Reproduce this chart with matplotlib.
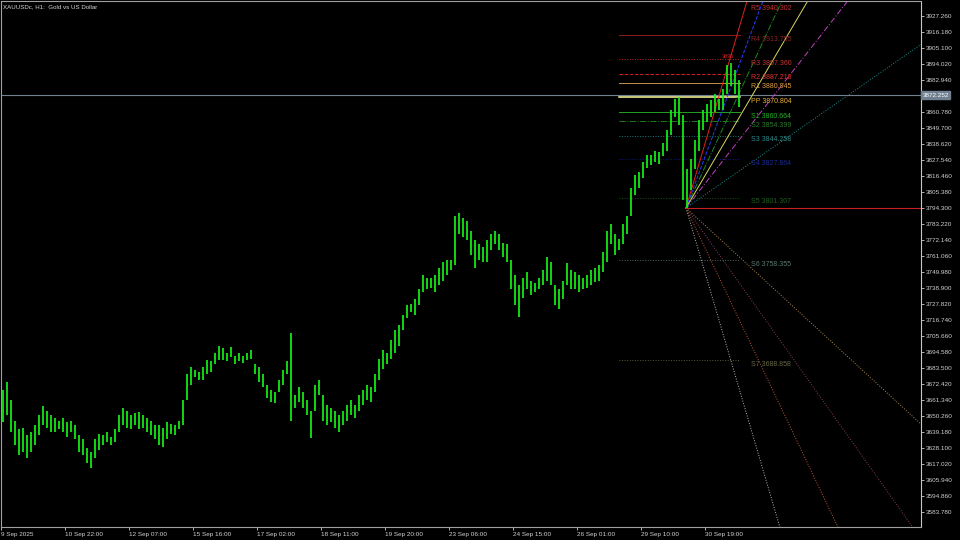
import numpy as np
import matplotlib
matplotlib.use('Agg')
import matplotlib.pyplot as plt

plt.rcParams['font.family'] = ['Liberation Sans', 'DejaVu Sans']

# XAUUSDc H1, one entry per two hourly bars (high / low)
highs = [3668, 3674, 3661, 3647, 3641, 3642, 3637, 3639, 3644, 3651,
         3657, 3654, 3651, 3649, 3647, 3649, 3646, 3647, 3644, 3637,
         3634, 3628, 3625, 3634, 3638, 3637, 3639, 3636, 3641, 3651,
         3656, 3654, 3651, 3652, 3653, 3651, 3649, 3647, 3644, 3644,
         3642, 3646, 3645, 3644, 3647, 3661, 3679, 3684, 3682, 3681,
         3684, 3689, 3688, 3694, 3699, 3697, 3694, 3698, 3692, 3694,
         3692, 3694, 3696, 3686, 3684, 3679, 3672, 3668, 3667, 3675,
         3682, 3688, 3708, 3665, 3670, 3667, 3661, 3654, 3672, 3675,
         3665, 3658, 3656, 3654, 3651, 3654, 3658, 3661, 3658, 3665,
         3668, 3672, 3670, 3679, 3690, 3696, 3694, 3703, 3710, 3713,
         3720, 3727, 3728, 3731, 3738, 3748, 3746, 3746, 3748, 3753,
         3757, 3758, 3758, 3789, 3791, 3787, 3785, 3778, 3772, 3769,
         3767, 3772, 3776, 3778, 3776, 3770, 3769, 3758, 3748, 3741,
         3746, 3750, 3744, 3742, 3746, 3751, 3760, 3757, 3741, 3738,
         3744, 3756, 3751, 3750, 3748, 3746, 3748, 3751, 3753, 3755,
         3764, 3778, 3783, 3776, 3773, 3783, 3789, 3808, 3817, 3819,
         3826, 3831, 3831, 3834, 3833, 3839, 3848, 3862, 3870, 3871,
         3859, 3821, 3828, 3841, 3855, 3862, 3866, 3869, 3873, 3870,
         3877, 3893, 3895, 3890, 3883]
lows = [3646, 3651, 3639, 3630, 3623, 3625, 3621, 3625, 3630, 3637,
        3644, 3642, 3639, 3639, 3641, 3639, 3636, 3639, 3634, 3625,
        3623, 3618, 3614, 3621, 3627, 3630, 3632, 3630, 3632, 3639,
        3644, 3642, 3641, 3644, 3641, 3642, 3639, 3637, 3634, 3630,
        3629, 3634, 3638, 3637, 3641, 3644, 3661, 3672, 3677, 3675,
        3675, 3679, 3681, 3686, 3689, 3689, 3688, 3691, 3686, 3688,
        3687, 3689, 3690, 3679, 3674, 3670, 3663, 3660, 3659, 3667,
        3672, 3679, 3647, 3656, 3660, 3656, 3651, 3635, 3654, 3665,
        3647, 3644, 3646, 3642, 3639, 3644, 3647, 3651, 3649, 3654,
        3658, 3661, 3660, 3667, 3675, 3683, 3686, 3690, 3694, 3699,
        3710, 3718, 3722, 3720, 3727, 3736, 3738, 3739, 3736, 3741,
        3744, 3748, 3751, 3755, 3776, 3774, 3772, 3762, 3753, 3758,
        3757, 3757, 3765, 3769, 3765, 3760, 3757, 3738, 3727, 3719,
        3732, 3738, 3734, 3736, 3738, 3741, 3744, 3741, 3727, 3724,
        3731, 3741, 3738, 3738, 3736, 3738, 3739, 3741, 3743, 3744,
        3750, 3757, 3769, 3762, 3765, 3769, 3776, 3789, 3803, 3808,
        3815, 3822, 3824, 3826, 3825, 3830, 3834, 3845, 3857, 3852,
        3800, 3794.3, 3807, 3821, 3834, 3848, 3854, 3857, 3861, 3862,
        3862, 3873, 3879, 3873, 3864]

time_labels = ['9 Sep 2025', '10 Sep 22:00', '12 Sep 07:00', '15 Sep 16:00',
               '17 Sep 02:00', '18 Sep 11:00', '19 Sep 20:00', '23 Sep 06:00',
               '24 Sep 15:00', '26 Sep 01:00', '29 Sep 10:00', '30 Sep 19:00']
time_bars = [0, 32, 64, 96, 128, 160, 192, 224, 256, 288, 320, 352]

price_ticks = [3927.260, 3916.180, 3905.100, 3894.020, 3882.940, 3860.780,
               3849.700, 3838.620, 3827.540, 3816.460, 3805.380, 3794.300,
               3783.220, 3772.140, 3761.060, 3749.980, 3738.900, 3727.820,
               3716.740, 3705.660, 3694.580, 3683.500, 3672.420, 3661.340,
               3650.260, 3639.180, 3628.100, 3617.020, 3605.940, 3594.860,
               3583.780]

bid = 3872.252
peak_label = '3895'
peak_bar, peak_price = 363.5, 3899.0

# pivot levels
piv_names = ['R5', 'R4', 'R3', 'R2', 'R1', 'PP', 'S1', 'S2', 'S3', 'S4', 'S5', 'S6', 'S7']
piv_values = [3940.302, 3913.755, 3897.360, 3887.218, 3880.945, 3870.804, 3860.664,
              3854.399, 3844.258, 3827.864, 3801.307, 3758.355, 3688.858]
piv_line_colors = ['#c02020', '#8b1a1a', '#c82828', '#d02020', '#c8904a', '#ffffa0', '#22a022',
                   '#1f7a1f', '#1f7a7a', '#101a80', '#145214', '#4a6a60', '#5a5a38']
piv_text_colors = ['#c83030', '#8b2525', '#c83232', '#e03030', '#e0a040', '#e8b030', '#22b022',
                   '#2a7a2a', '#2a8a8a', '#1a2a90', '#1f5f1f', '#5a7a6a', '#6a6a48']
piv_styles = ['-', '-', ':', '--', '-', '-', '-', '-.', ':', ':', ':', ':', ':']

# fan from the swing low
fan_bar, fan_price = 342.5, 3794.3
fan_end_bar = 460
fan_end_prices = [4346.0, 4232.1, 4145.6, 4071.0, 4002.6, 3907.5,
                  3240.9, 3452.4, 3565.2, 3644.6]
fan_colors = ['#e02020', '#2a3cff', '#1f8a1f', '#d8d860', '#c040c0', '#1f9090',
              '#b8b8b8', '#c05a3a', '#8a3a6a', '#b08a50']
fan_styles = ['-', '--', '-.', '-', (0, (6, 2, 1, 2)), ':', ':', ':', ':', ':']

fig = plt.figure(figsize=(9.6, 5.4), dpi=100, facecolor='black')
ax = fig.add_axes([1 / 960, 13 / 540, 920 / 960, 526 / 540])
ax.set_facecolor('black')
ax.set_xlim(0, 460)
ax.set_ylim(3573.35, 3937.6)
top = ax.get_ylim()[1]

# bid line
ax.axhline(bid, color='#708090', lw=0.8, zorder=1)

# candles
bars = np.arange(len(highs)) * 2 + 1
ax.vlines(bars, lows, highs, color='#14f014', lw=1.25, zorder=3)

# pivots
for name, v, lc, tc, ls in zip(piv_names, piv_values, piv_line_colors, piv_text_colors, piv_styles):
    lw = 1.1 if name == 'PP' else 0.7
    ax.plot([309, 369.5], [v, v], color=lc, ls=ls, lw=lw, zorder=2)
    ty = min(v, top - 2.2)  # keep the R5 tag inside the frame
    ax.annotate('%s %.3f' % (name, v), (375, ty), xytext=(0, -3), textcoords='offset points',
                color=tc, fontsize=5, va='center', ha='left',
                annotation_clip=False, clip_on=True)

ax.text(peak_bar, peak_price, peak_label, color='#d02020', fontsize=4, ha='center', va='center')

# fan lines
for ep, c, ls in zip(fan_end_prices, fan_colors, fan_styles):
    ax.plot([fan_bar, fan_end_bar], [fan_price, ep], color=c, ls=ls, lw=0.7, zorder=2)
ax.plot([fan_bar, fan_end_bar], [fan_price, fan_price], color='#c81e1e', lw=0.8, zorder=2)

# axes look
for s in ['left', 'top', 'bottom']:
    ax.spines[s].set_color('#a0a0a0')
    ax.spines[s].set_linewidth(0.8)
ax.spines['right'].set_color('#c8c8c8')
ax.spines['right'].set_linewidth(0.8)

ax.yaxis.tick_right()
ax.set_yticks(price_ticks)
ax.set_yticklabels(['%.3f' % p for p in price_ticks])
ax.tick_params(axis='y', colors='#d0d0d0', labelsize=4.6, length=2.2, width=0.6, pad=1)
ax.set_xticks(time_bars)
ax.set_xticklabels(time_labels, ha='left')
ax.tick_params(axis='x', colors='#d0d0d0', labelsize=4.6, length=2.5, width=0.6, pad=1.2)
ax.tick_params(left=False)

# bid price tag on the axis
ax.text(1.0015, bid, '%.3f' % bid, transform=ax.get_yaxis_transform(),
        color='white', fontsize=4.6, va='center', ha='left', clip_on=False,
        bbox=dict(boxstyle='square,pad=0.25', facecolor='#708090', edgecolor='#708090'))

fig.text(3 / 960, 1 - 7 / 540, 'XAUUSDc, H1:  Gold vs US Dollar', color='#d8d8d8',
         fontsize=4.4, va='center', ha='left')

fig.savefig('out.png', dpi=100, facecolor='black')
